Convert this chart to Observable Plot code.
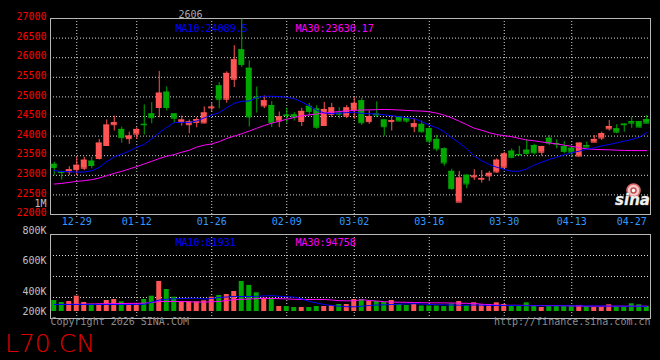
<!DOCTYPE html>
<html><head><meta charset="utf-8">
<script src="https://cdn.jsdelivr.net/npm/d3@7"></script>
<script src="https://cdn.jsdelivr.net/npm/@observablehq/plot@0.6"></script>
<style>
html,body{margin:0;padding:0;background:#000;overflow:hidden;}
#wrap{position:relative;width:660px;height:360px;background:#000;}
#wrap svg{position:absolute;left:0;top:0;}
#brand{position:absolute;left:5px;top:331px;font:200 25px/25px "DejaVu Sans";color:#e00000;}
</style></head><body><div id="wrap"><div id="brand">L70.CN</div></div>
<script>
// ---------- data ----------
const dates = ["12-24","12-25","12-26","12-29","12-30","12-31","01-05","01-06","01-07","01-08","01-09","01-12","01-13","01-14","01-15","01-16","01-19","01-20","01-21","01-22","01-23","01-26","01-27","01-28","01-29","01-30","02-02","02-03","02-04","02-05","02-06","02-09","02-10","02-11","02-12","02-13","02-24","02-25","02-26","02-27","03-02","03-03","03-04","03-05","03-06","03-09","03-10","03-11","03-12","03-13","03-16","03-17","03-18","03-19","03-20","03-23","03-24","03-25","03-26","03-27","03-30","03-31","04-01","04-02","04-03","04-07","04-08","04-09","04-10","04-13","04-14","04-15","04-16","04-17","04-20","04-21","04-22","04-23","04-24","04-27"];
const open  = [23280,23085,23090,23145,23180,23360,23430,23760,24290,24170, 23935,24050,24300,24565,24730,25120,24565,24350,24290,24350, 24335,24720,25280,24940,25450,26200,25730,24990,24770,24780, 24385,24535,24540,24375,24760,24690,24270,24555,24585,24510, 24680,24900,24370,24560,24410,24370,24495,24445,24240,24300, 24190,23915,23675,23100,22315,23000,22960,22900,22985,23085, 23205,23615,23530,23640,23760,23590,23945,23810,23735,23690, 23490,23760,23845,23950,24185,24185,24305,24370,24370,24420];
const close = [23200,23070,23140,23255,23385,23250,23820,24280,24340,23960, 24000,24170,24290,24470,25095,24730,24455,24410,24365,24420, 24590,24740,24940,25600,25945,25825,24490,24970,24900,24350, 24490,24525,24490,24630,24630,24225,24680,24720,24560,24720, 24835,24340,24495,24540,24240,24395,24385,24385,24315,24110, 23870,23675,23315,22660,22930,22780,22980,22920,23050,23385, 23545,23460,23520,23560,23575,23735,23820,23795,23610,23590, 23820,23720,23915,24060,24245,24100,24290,24330,24230,24330];
const high  = [23330,23100,23220,23460,23460,23460,23915,24410,24510,24230, 24100,24210,24795,24855,25650,25255,24570,24510,24410,24470, 24745,24840,25365,25640,26305,26985,25920,25250,25025,24880, 24615,24715,24600,24710,24835,24775,24860,24835,24720,24780, 24980,24965,24640,24870,24410,24510,24500,24450,24430,24385, 24215,24020,23700,23155,23100,23015,23145,23120,23100,23420, 23590,23670,23740,23915,23790,23740,24015,23905,23860,23735, 23825,23845,24015,24100,24400,24290,24315,24485,24370,24525];
const low   = [23000,22880,23000,22990,23120,23170,23390,23750,24130,23820, 23790,23915,24025,24315,24470,24640,24320,24255,24060,24210, 24315,24620,24700,24840,25240,25750,24230,24585,24700,24220, 24215,24330,24385,24245,24510,24170,24270,24470,24440,24445, 24430,24275,24300,24470,24000,24130,24370,24330,24085,24080, 23800,23600,23230,22615,22315,22655,22870,22800,22845,23050, 23170,23420,23510,23510,23520,23490,23760,23675,23550,23445, 23490,23715,23845,23890,24125,24060,24100,24200,24220,24315];
const ma10  = [23120,23095,23095,23080,23085,23115,23200,23350,23470,23540, 23620,23720,23790,23930,24085,24225,24345,24350,24350,24385, 24465,24538,24598,24726,24837,24888,24896,24982,25016,25016, 25007,24990,24956,24870,24768,24657,24590,24572,24585,24600, 24610,24580,24570,24565,24545,24520,24495,24470,24444,24367, 24282,24213,24110,23957,23829,23675,23487,23370,23275,23205, 23150,23103,23104,23164,23260,23336,23404,23463,23523,23574, 23616,23667,23701,23752,23786,23829,23871,23914,23970,24090];
const ma30  = [22777,22794,22820,22845,22863,22888,22931,22990,23050,23102, 23162,23222,23290,23358,23427,23487,23529,23589,23640,23720, 23770,23800,23860,23940,24000,24060,24130,24200,24270,24330, 24380,24430,24475,24518,24540,24565,24590,24610,24625,24645, 24655,24665,24670,24675,24680,24675,24665,24655,24645,24638, 24620,24585,24535,24465,24380,24290,24200,24150,24085,24040, 24010,23985,23940,23900,23880,23850,23825,23800,23770,23740, 23700,23675,23662,23655,23650,23640,23635,23632,23630,23630];
const volume = [310,290,300,353,290,273,273,310,320,297, 273,273,320,353,466,413,343,297,297,297, 307,343,360,370,400,466,440,387,333,333, 250,250,240,240,240,250,250,260,270,270, 320,320,300,300,290,310,270,260,270,255, 255,255,250,275,300,260,287,270,270,287, 270,260,250,287,260,240,250,250,250,260, 260,250,240,240,267,250,250,277,267,250];
const volMa10 = [270,270,270,270,270,270,270,270,270,270, 270,270,272,293,315,322,327,330,332,333, 325,330,340,345,350,350,350,352,356,358, 352,348,343,327,300,285,270,260,253,248, 247,253,260,265,267,270,273,276,278,275, 270,268,267,265,263,262,265,263,261,260, 260,260,259,258,258,257,257,257,257,256, 256,255,255,255,254,254,253,253,253,252];
const volMa30 = [270,271,272,273,274,275,277,278,279,280, 281,282,283,290,300,300,300,300,298,295, 294,298,300,310,318,322,325,328,332,330, 328,326,322,320,320,320,320,315,308,307, 307,318,310,305,298,294,293,292,290,288, 287,287,286,285,283,282,280,273,268,265, 262,262,262,261,260,260,260,260,258,256, 254,253,253,253,253,253,253,253,253,254];
const priceTicks = [22000,22500,23000,23500,24000,24500,25000,25500,26000,26500,27000];
const gridDates  = ["12-29","01-12","01-26","02-09","03-02","03-16","03-30","04-13"];
const lastDate   = ["04-27"];
const volTicks   = [200,400,600,800,1000];
const volBase    = 200;
const volQuarters = [1,2,3];
const contract   = "2606";
const priceMA    = {ma10: "24089.5", ma30: "23630.17"};
const volMA      = {ma10: "81931", ma30: "94758"};

// ---------- build ----------
const rows = dates.map((d, i) => ({date: d, open: open[i], close: close[i], high: high[i], low: low[i],
  vol: volume[i], ma10: ma10[i], ma30: ma30[i], vma10: volMa10[i], vma30: volMa30[i]}));
const RED = "#ff5555", GREEN = "#00a800";
const col = d => d.close >= d.open ? RED : GREEN;
const FONT = "'DejaVu Sans Mono', monospace";
const GRID = "#d8d8d8", FRAME = "#b8b8b8";
const baseStyle = {background: "transparent", color: "#ccc", fontFamily: FONT, fontSize: "10px", overflow: "visible"};
const xBand  = {type: "band", domain: dates, padding: 0, label: null};
const xPoint = {type: "point", domain: dates, label: null};
const dotted = {stroke: GRID, strokeOpacity: 1, strokeDasharray: "1,2"};

// layer 1: price grid + axes (Sina places the grid on a point scale)
const priceGrid = Plot.plot({
  width: 660, height: 360, marginLeft: 50, marginRight: 10, marginTop: 18, marginBottom: 146,
  style: {...baseStyle, background: "#000"},
  x: xPoint,
  y: {domain: [22000, 27000], label: null},
  marks: [
    Plot.gridY(priceTicks, dotted),
    Plot.gridX(gridDates, {...dotted, y2: 21920}),
    Plot.axisY(priceTicks, {tickSize: 0, tickPadding: 4, dy: -1.5, label: null, color: "#ff0000", fill: "#ff0000", tickFormat: d => String(d)}),
    Plot.axisX(gridDates, {tickSize: 0, tickPadding: 3, label: null, color: "#3399ff", fill: "#3399ff"}),
    Plot.axisX(lastDate, {tickSize: 0, tickPadding: 3, label: null, color: "#3399ff", fill: "#3399ff", textAnchor: "end"})
  ]
});

// layer 2: candles + moving averages
const main = Plot.plot({
  width: 660, height: 360, marginLeft: 50, marginRight: 10, marginTop: 18, marginBottom: 146,
  style: baseStyle,
  x: {...xBand, axis: null},
  y: {domain: [22000, 27000], label: null, axis: null},
  marks: [
    Plot.frame({stroke: FRAME}),
    Plot.ruleX(rows, {x: "date", y1: "low", y2: "high", stroke: col}),
    Plot.barY(rows, {x: "date", y1: "open", y2: "close", fill: col, insetLeft: 0.75, insetRight: 0.75}),
    Plot.tickY(rows, {x: "date", y: "close", stroke: col, insetLeft: 0.75, insetRight: 0.75}),
    Plot.tickY(rows, {x: "date", y: "open", stroke: col, insetLeft: 0.75, insetRight: 0.75}),
    Plot.line(rows, {x: "date", y: "ma30", stroke: "#ff00ff", strokeWidth: 1}),
    Plot.line(rows, {x: "date", y: "ma10", stroke: "#0000ff", strokeWidth: 1}),
    Plot.text([contract], {text: d => d, frameAnchor: "top-left", dx: 128, dy: -8, fill: "#aaaaaa"}),
    Plot.text(["MA10:" + priceMA.ma10], {text: d => d, frameAnchor: "top-left", textAnchor: "start", dx: 125, dy: 6, fill: "#0000ff"}),
    Plot.text(["MA30:" + priceMA.ma30], {text: d => d, frameAnchor: "top-left", textAnchor: "start", dx: 245, dy: 6, fill: "#ff00ff"}),
    Plot.dot(["logo"], {frameAnchor: "bottom-right", dx: -17, dy: -24, r: 6.5, fill: "#f6c8c8", stroke: "#e06a6a", strokeWidth: 1.5}),
    Plot.dot(["logo"], {frameAnchor: "bottom-right", dx: -17, dy: -24, r: 2.5, fill: "#ffffff", stroke: "#c05050"}),
    Plot.text(["sina"], {text: d => d, frameAnchor: "bottom-right", textAnchor: "middle", dx: -18, dy: -10, fill: "#f0f0f0", stroke: "#888", strokeWidth: 0.6,
      fontFamily: "'DejaVu Sans'", fontStyle: "italic", fontWeight: "bold", fontSize: 15})
  ]
});

// layer 3: volume panel frame, grid, labels
const vframe = Plot.plot({
  width: 660, height: 360, marginLeft: 50, marginRight: 10, marginTop: 234, marginBottom: 42,
  style: baseStyle,
  x: {...xPoint, axis: null},
  y: {domain: [0, 4], axis: null, label: null},
  marks: [
    Plot.gridY(volQuarters, dotted),
    Plot.gridX(gridDates, {...dotted, y2: -0.12}),
    Plot.frame({stroke: FRAME}),
    Plot.text(["MA10:" + volMA.ma10], {text: d => d, frameAnchor: "top-left", textAnchor: "start", dx: 125, dy: 4, fill: "#0000ff"}),
    Plot.text(["MA30:" + volMA.ma30], {text: d => d, frameAnchor: "top-left", textAnchor: "start", dx: 245, dy: 4, fill: "#ff00ff"}),
    Plot.text(["Copyright 2026 SINA.COM"], {text: d => d, frameAnchor: "bottom-left", textAnchor: "start", dy: 6, fill: "#8c8c8c"}),
    Plot.text(["http://finance.sina.com.cn"], {text: d => d, frameAnchor: "bottom-right", textAnchor: "end", dy: 6, fill: "#8c8c8c"})
  ]
});

// layer 4: volume bars + volume moving averages
const vdata = Plot.plot({
  width: 660, height: 360, marginLeft: 50, marginRight: 10, marginTop: 0, marginBottom: 0,
  style: baseStyle,
  x: {...xBand, axis: null},
  y: {type: "linear", domain: [200, 400, 800, 1000], range: [311, 291, 230, 203], label: null},
  marks: [
    Plot.barY(rows, {x: "date", y1: volBase, y2: "vol", fill: col, insetLeft: 1.25, insetRight: 1.25}),
    Plot.line(rows, {x: "date", y: "vma30", stroke: "#ff00ff", strokeWidth: 1}),
    Plot.line(rows, {x: "date", y: "vma10", stroke: "#0000ff", strokeWidth: 1}),
    Plot.axisY(volTicks, {tickSize: 0, tickPadding: 4, label: null, color: "#c0c0c0", fill: "#c0c0c0", tickFormat: d => d >= 1000 ? "1M" : d + "K"})
  ]
});

const wrap = document.getElementById("wrap");
wrap.prepend(priceGrid, main, vframe, vdata);
</script></body></html>
